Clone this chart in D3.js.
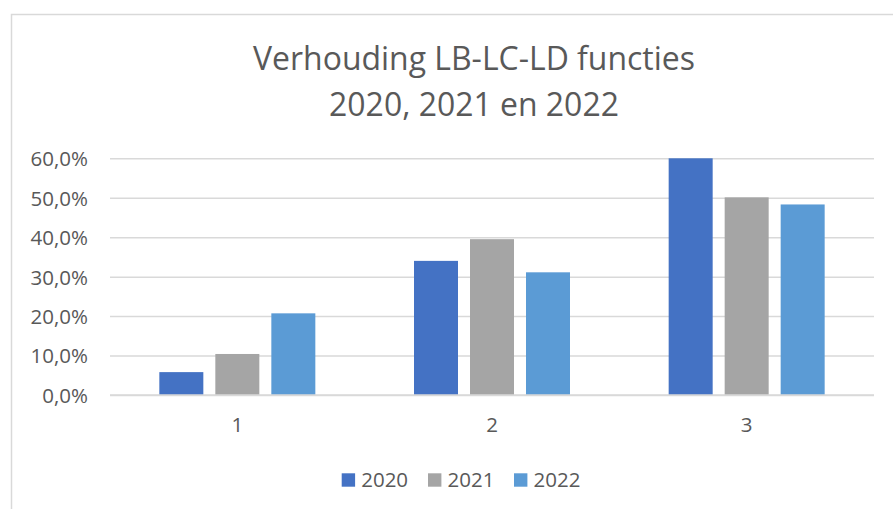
<!DOCTYPE html>
<html><head><meta charset="utf-8">
<script src="https://cdn.jsdelivr.net/npm/d3@7"></script>
<style>body{margin:0;background:#fff;} svg{display:block;} text{font-family:"Open Sans", sans-serif;fill:#595959;}</style>
</head><body>
<script>
const categories = ["1", "2", "3"];
const seriesNames = ["2020", "2021", "2022"];
const values2020 = [0.058, 0.340, 0.600];
const values2021 = [0.104, 0.395, 0.501];
const values2022 = [0.207, 0.311, 0.483];
const yTicks = [0, 0.1, 0.2, 0.3, 0.4, 0.5, 0.6];
const colors = ["#4472C4", "#A5A5A5", "#5B9BD5"];
const titleLines = ["Verhouding LB-LC-LD functies", "2020, 2021 en 2022"];

const W = 893, H = 509;
const svg = d3.select("body").append("svg").attr("width", W).attr("height", H);
svg.append("rect").attr("x", 11.5).attr("y", 14.5).attr("width", 940).attr("height", 520)
  .attr("fill", "#fff").attr("stroke", "#d9d9d9").attr("stroke-width", 1.5);

const plot = {left: 110, right: 874, top: 158.3, bottom: 395};
const x0 = d3.scaleBand().domain(categories).range([plot.left, plot.right]).paddingInner(0).paddingOuter(0);
const y = d3.scaleLinear().domain([0, 0.6]).range([plot.bottom, plot.top]);
const barW = 44, gap = 12;
const groupW = 3*barW + 2*gap;
const x1 = d3.scaleBand().domain(seriesNames).range([0, groupW]).paddingInner(gap/(barW+gap)).paddingOuter(0);

const tickFont = 20.5;
// gridlines + y labels
const yAxis = d3.axisLeft(y).tickValues(yTicks).tickSize(-(plot.right - plot.left)).tickPadding(22)
  .tickFormat(d => d3.format(".1f")(d*100).replace(".", ",") + "%");
const ga = svg.append("g").attr("transform", `translate(${plot.left},0)`).call(yAxis);
ga.select(".domain").remove();
ga.selectAll(".tick line").attr("stroke", "#d9d9d9").attr("stroke-width", 1.5);
ga.selectAll(".tick text").attr("font-size", tickFont).style("fill", "#595959").attr("dy", "0.36em");

const series = [values2020, values2021, values2022];
const data = [];
categories.forEach((c, i) => seriesNames.forEach((s, j) => data.push({c, s, v: series[j][i], j})));
svg.append("g").selectAll("rect").data(data).join("rect")
  .attr("x", d => x0(d.c) + (x0.bandwidth() - groupW)/2 + x1(d.s))
  .attr("width", x1.bandwidth())
  .attr("y", d => y(d.v))
  .attr("height", d => y(0) - y(d.v))
  .attr("fill", d => colors[d.j]);

// x axis line
svg.append("line").attr("x1", plot.left).attr("x2", plot.right).attr("y1", y(0)).attr("y2", y(0))
  .attr("stroke", "#d9d9d9").attr("stroke-width", 1.5);
const xAxis = d3.axisBottom(x0).tickSize(0).tickPadding(22.5);
const gx = svg.append("g").attr("transform", `translate(0,${plot.bottom})`).call(xAxis);
gx.select(".domain").remove();
gx.selectAll(".tick text").attr("font-size", tickFont).style("fill", "#595959");

// title, fitted to the reference width
const t1 = svg.append("text").attr("x", 474).attr("y", 70).attr("text-anchor", "middle").attr("font-size", 28).text(titleLines[0]);
const w1 = t1.node().getComputedTextLength();
const tf = Math.min(32, Math.max(24, 28 * 442 / w1));
t1.attr("font-size", tf);
svg.append("text").attr("x", 474).attr("y", 116).attr("text-anchor", "middle").attr("font-size", tf).text(titleLines[1]);

// legend
const legendX = [341.7, 428, 514];
const lg = svg.append("g");
seriesNames.forEach((s, j) => {
  lg.append("rect").attr("x", legendX[j]).attr("y", 473.3).attr("width", 13.4).attr("height", 13.4).attr("fill", colors[j]);
  lg.append("text").attr("x", legendX[j] + 19.5).attr("y", 486.7).attr("font-size", tickFont).text(s);
});
</script>
</body></html>
